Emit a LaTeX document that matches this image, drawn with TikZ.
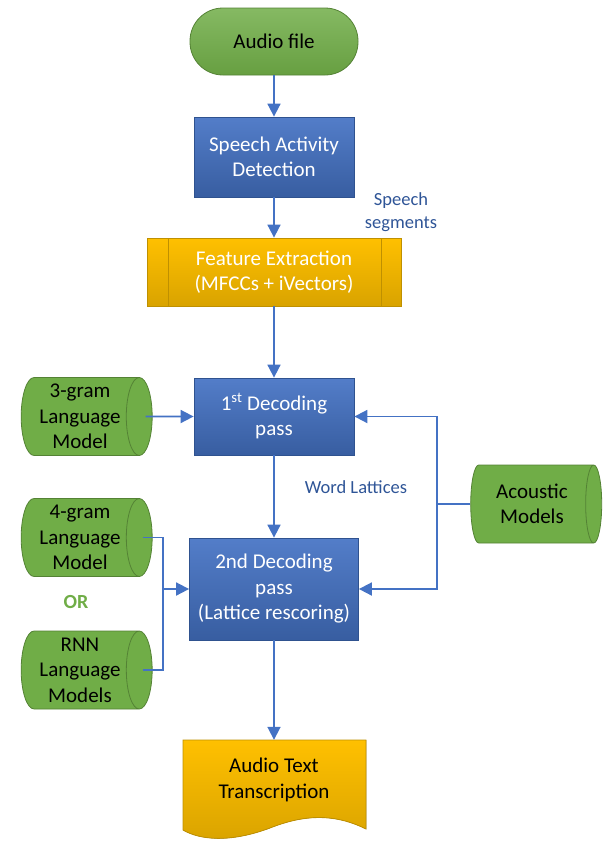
\documentclass[tikz,border=0pt]{standalone}
\usepackage{fontspec}
\setmainfont{Carlito}
\usetikzlibrary{arrows.meta, positioning, shapes.geometric, calc}
\definecolor{leafgreen}{RGB}{112, 173, 71}
\definecolor{leafdark}{RGB}{84, 130, 53}
\definecolor{officeblue}{RGB}{68, 114, 196}
\definecolor{bluedark}{RGB}{47, 82, 143}
\definecolor{amber}{RGB}{255, 192, 0}
\definecolor{amberdark}{RGB}{191, 144, 0}
\definecolor{labelblue}{RGB}{47, 85, 151}

\begin{document}
\begin{tikzpicture}[x=1pt, y=-1pt,
    every node/.style={font=\fontsize{21}{25.5}\selectfont, align=center, inner sep=0pt},
    termbox/.style={draw=leafdark, line width=0.8pt, top color=leafgreen!85!white,
      bottom color=leafgreen!92!black, rounded corners=33pt,
      minimum width=168pt, minimum height=67pt},
    procbox/.style={draw=bluedark, line width=0.8pt, top color=officeblue!92!white,
      bottom color=officeblue!82!black, text=white, minimum width=160pt},
    predefbox/.style={draw=amberdark, line width=0.8pt, top color=amber,
      bottom color=amber!85!black, text=white,
      minimum width=254pt, minimum height=68pt,
      path picture={
        \draw[amberdark, line width=0.8pt]
          ([xshift=21pt]path picture bounding box.north west) --
          ([xshift=21pt]path picture bounding box.south west);
        \draw[amberdark, line width=0.8pt]
          ([xshift=-20pt]path picture bounding box.north east) --
          ([xshift=-20pt]path picture bounding box.south east);}},
    storebox/.style={cylinder, draw=leafdark, line width=0.8pt, fill=leafgreen,
      aspect=0.4, minimum width=78pt, minimum height=131pt},
    flow/.style={draw=officeblue, line width=1.8pt, -{Triangle[length=13pt, width=13pt]}},
    plainflow/.style={draw=officeblue, line width=1.8pt},
    edgelabel/.style={text=labelblue, font=\fontsize{18.5}{23}\selectfont}]

  \useasboundingbox (0,0) rectangle (604,841);

  % ---- main chain ----
  \node[termbox] (audio) at (274,41.5) {Audio file};
  \node[procbox, minimum height=80pt] (sad) at (274,157) {Speech Activity\\Detection};
  \node[predefbox] (feat) at (274,272) {Feature Extraction\\(MFCCs + iVectors)};
  \node[procbox, minimum height=77pt] (dec1) at (274,416.5) {1\textsuperscript{st} Decoding\\pass};
  \node[procbox, minimum width=169pt, minimum height=102pt] (dec2) at (274,589)
    {2nd Decoding\\pass\\(Lattice rescoring)};

  % output document
  \fill[top color=amber, bottom color=amber!85!black, draw=amberdark, line width=0.8pt]
    (183,740) -- (366,740) -- (366,829)
    .. controls (340,816) and (310,812) .. (270,828)
    .. controls (230,843) and (200,840) .. (183,830) -- cycle;
  \node[minimum width=183pt, minimum height=80pt] (trans) at (274,780) {Audio Text\\Transcription};

  % ---- models ----
  \node[storebox] (lm3) at (80,416.5) {3-gram\\Language\\Model};
  \node[storebox] (lm4) at (80,537.5) {4-gram\\Language\\Model};
  \node[text=leafgreen, font=\fontsize{20}{24}\selectfont\bfseries] (orlab) at (76,602) {OR};
  \node[storebox] (rnn) at (80,670) {RNN\\Language\\Models};
  \node[storebox] (acm) at (532,504) {Acoustic\\Models};

  % ---- labels ----
  \node[edgelabel] (segs) at (401,212) {Speech\\segments};
  \node[edgelabel] (lat) at (356,487) {Word Lattices};

  % ---- connectors ----
  \coordinate (lmjoin) at (163,589);
  \coordinate (acjoin) at (437,504);
  \draw[flow] (audio) -- (sad);
  \draw[flow] (sad) -- (feat);
  \draw[flow] (feat) -- (dec1);
  \draw[flow] (dec1) -- (dec2);
  \draw[flow] (dec2) -- (trans);
  \draw[flow] ([xshift=-7pt]lm3.east) -- (dec1.west);
  \draw[plainflow] ([xshift=-10pt]lm4.east) -| (lmjoin);
  \draw[plainflow] ([xshift=-10pt]rnn.east) -| (lmjoin);
  \draw[flow] (lmjoin) -- (dec2.west);
  \draw[plainflow] (acm.west) -- (acjoin);
  \draw[flow] (acjoin) |- (dec1.east);
  \draw[flow] (acjoin) |- (dec2.east);
\end{tikzpicture}
\end{document}
